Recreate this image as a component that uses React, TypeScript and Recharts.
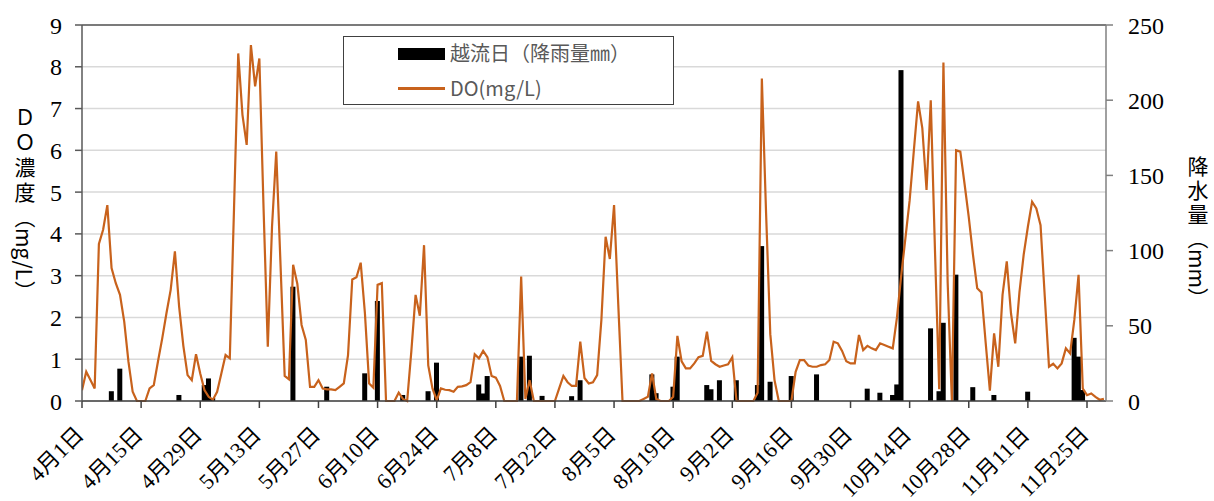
import React from 'react';
import { ComposedChart, Line, Bar, XAxis, YAxis, CartesianGrid, ReferenceLine, Legend } from 'recharts';

// x tick positions (days after 4/1) and their labels
const xTickDays = [0, 14, 28, 42, 56, 70, 84, 98, 112, 126, 140, 154, 168, 182, 196, 210, 224, 238];
const xTickLabels = [
  '4月1日', '4月15日', '4月29日', '5月13日', '5月27日', '6月10日', '6月24日', '7月8日', '7月22日',
  '8月5日', '8月19日', '9月2日', '9月16日', '9月30日', '10月14日', '10月28日', '11月11日', '11月25日',
];

const leftTicks = [0, 1, 2, 3, 4, 5, 6, 7, 8, 9];
const rightTicks = [0, 50, 100, 150, 200, 250];

// daily DO (mg/L) from 4/1 (day 0)
const doValues = [
  0.26, 0.7, 0.5, 0.3, 3.76, 4.1, 4.69, 3.18, 2.82, 2.54,
  1.9, 0.94, 0.22, 0, 0, 0, 0.3, 0.38, 0.95, 1.5,
  2.1, 2.66, 3.58, 2.26, 1.32, 0.62, 0.5, 1.12, 0.66, 0.26,
  0.1, 0.03, 0.22, 0.66, 1.1, 1.02, 4.6, 8.32, 6.85, 6.13,
  8.52, 7.53, 8.2, 4.6, 1.3, 4.17, 5.97, 3.3, 0.6, 0.52,
  3.26, 2.8, 1.82, 1.46, 0.34, 0.34, 0.5, 0.3, 0.28, 0.28,
  0.26, 0.34, 0.42, 1.1, 2.91, 2.96, 3.31, 2.1, 0.42, 0.32,
  2.78, 2.82, 0, 0, 0, 0.2, 0.05, 0, 1.2, 2.54,
  2.04, 3.73, 0.85, 0.3, 0.02, 0.3, 0.27, 0.26, 0.22, 0.34,
  0.35, 0.38, 0.45, 1.12, 1.02, 1.2, 1.05, 0.6, 0.56, 0.36,
  0, 0, 0, 0, 2.98, 0.05, 0.5, 0, 0, 0,
  0, 0, 0, 0.3, 0.6, 0.45, 0.36, 0.36, 1.42, 0.55,
  0.42, 0.45, 0.62, 1.94, 3.93, 3.4, 4.69, 2.3, 0, 0,
  0, 0, 0, 0.05, 0.1, 0.66, 0.05, 0, 0, 0,
  0.1, 1.56, 0.95, 0.78, 0.78, 0.9, 1.05, 1.08, 1.66, 0.96,
  0.88, 0.82, 0.85, 0.88, 1.05, 0, 0, 0, 0, 0,
  0.2, 7.72, 4.5, 1.6, 0.5, 0, 0, 0, 0, 0.7,
  0.98, 0.98, 0.85, 0.82, 0.82, 0.86, 0.88, 0.98, 1.42, 1.38,
  1.2, 0.95, 0.9, 0.9, 1.58, 1.22, 1.32, 1.26, 1.22, 1.38,
  1.34, 1.3, 1.26, 2.0, 3.0, 3.9, 4.8, 6.0, 7.17, 6.53,
  5.05, 7.2, 3.6, 0.28, 8.1, 2.85, 0, 6.0, 5.97, 5.2,
  4.4, 3.5, 2.7, 2.6, 1.4, 0.25, 1.62, 0.82, 2.54, 3.34,
  2.1, 1.38, 2.6, 3.5, 4.17, 4.77, 4.61, 4.21, 2.5, 0.82,
  0.89, 0.78, 0.9, 1.26, 1.14, 1.94, 3.02, 0.3, 0.14, 0.18,
  0.1, 0.03, 0.05,
];

// overflow days (days after 4/1) and rainfall (mm)
const rainDays = [
  7, 9, 23, 29, 30, 31, 50, 58, 67, 70, 76, 82, 84, 94, 95, 96, 104, 106, 109, 116, 118,
  135, 136, 140, 141, 148, 149, 151, 155, 160, 161, 163, 168, 174, 186, 189, 192, 193, 194,
  201, 203, 204, 207, 211, 216, 224, 235, 236, 237,
];
const rainValues = [
  6.5, 21.5, 4, 10.6, 15, 2, 76, 9.5, 18.4, 66.5, 4, 6.5, 25.5, 11, 5, 16.6, 29.5, 30.1, 3.4, 3.2, 13.8,
  17.7, 5.2, 9.5, 29.5, 10.6, 7.8, 13.8, 13.8, 10.6, 103, 12.8, 16.6, 17.7, 8.2, 5.5, 4, 11, 220,
  48.3, 6.5, 52, 84, 9.2, 4, 6.2, 42, 29.5, 7.3,
];

const rainLabel = '越流日（降雨量㎜）';
const doLabel = 'DO(mg/L)';
const leftTitleMain = 'ＤＯ濃度';
const leftTitleUnit = '（mg/L）';
const rightTitleMain = '降水量';
const rightTitleUnit = '（mm）';

const data = doValues.map((v, i) => {
  const k = rainDays.indexOf(i);
  return { day: i, do: v, rain: k >= 0 ? rainValues[k] : undefined };
});

const ORANGE = '#C8621C';
const NUM_FONT = "'Liberation Serif', 'DejaVu Serif', serif";
const CJK_FONT = "'Noto Sans CJK JP', sans-serif";
const BAR_W = 5;

const XTick = (props: any) => {
  const { x, y, payload } = props;
  const idx = xTickDays.indexOf(payload.value);
  const label = idx >= 0 ? xTickLabels[idx] : '';
  const ax = x + 3;
  const ay = y + 26;
  return (
    <text
      x={ax}
      y={ay}
      textAnchor="end"
      transform={`rotate(-45 ${ax} ${ay})`}
      fontSize={22}
      fontFamily={`'Liberation Serif', ${CJK_FONT}`}
      fill="#000"
    >
      {label}
    </text>
  );
};

const BarShape = (p: any) => {
  const { x, y, width, height } = p;
  if (!height || height <= 0) return null;
  const cx = x + width / 2;
  return <rect x={cx - BAR_W / 2} y={y} width={BAR_W} height={height} fill="#000" />;
};

const renderLegend = () => (
  <div
    style={{
      position: 'relative',
      width: 331,
      height: 69,
      boxSizing: 'border-box',
      border: '1.5px solid #404040',
      background: '#fff',
      fontFamily: CJK_FONT,
      color: '#595959',
    }}
  >
    <div style={{ position: 'absolute', left: 54, top: 11, width: 47, height: 12, background: '#000' }} />
    <div style={{ position: 'absolute', left: 106, top: 2, fontSize: 20, lineHeight: '28px', whiteSpace: 'nowrap' }}>
      {rainLabel}
    </div>
    <div style={{ position: 'absolute', left: 54, top: 50, width: 47, height: 2.5, background: ORANGE }} />
    <div style={{ position: 'absolute', left: 106, top: 37, fontSize: 20, lineHeight: '28px', whiteSpace: 'nowrap' }}>
      {doLabel}
    </div>
  </div>
);

const vTitle: React.CSSProperties = {
  position: 'absolute',
  writingMode: 'vertical-rl',
  fontFamily: CJK_FONT,
  fontSize: 21,
  lineHeight: '24px',
  width: 24,
  color: '#000',
  whiteSpace: 'nowrap',
};

export default function App() {
  return (
    <div style={{ position: 'absolute', left: 0, top: 0, width: 1214, height: 501, background: '#fff' }}>
      <ComposedChart
        width={1214}
        height={501}
        data={data}
        margin={{ top: 25, right: 0, bottom: 0, left: 0 }}
      >
        <CartesianGrid yAxisId="left" vertical={false} stroke="#d9d9d9" strokeWidth={1.5} />
        <XAxis
          dataKey="day"
          type="number"
          domain={[0, 242.5]}
          ticks={xTickDays}
          interval={0}
          height={100}
          tickSize={7}
          tick={<XTick />}
          axisLine={{ stroke: '#404040', strokeWidth: 1.5 }}
          tickLine={{ stroke: '#404040', strokeWidth: 1.5 }}
          allowDataOverflow
        />
        <YAxis
          yAxisId="left"
          domain={[0, 9]}
          ticks={leftTicks}
          interval={0}
          width={82}
          tickSize={7}
          tickMargin={13}
          axisLine={{ stroke: '#595959', strokeWidth: 1.5 }}
          tickLine={{ stroke: '#595959', strokeWidth: 1.5 }}
          tick={{ fontSize: 24, fontFamily: NUM_FONT, fill: '#000' }}
        />
        <YAxis
          yAxisId="right"
          orientation="right"
          domain={[0, 250]}
          ticks={rightTicks}
          interval={0}
          width={108}
          tickSize={7}
          tickMargin={15}
          axisLine={{ stroke: '#808080', strokeWidth: 1.5 }}
          tickLine={{ stroke: '#808080', strokeWidth: 1.5 }}
          tick={{ fontSize: 24, fontFamily: NUM_FONT, fill: '#000', textAnchor: 'start' }}
        />
        <ReferenceLine yAxisId="left" y={9} stroke="#595959" strokeWidth={1.5} />
        <Bar
          yAxisId="right"
          dataKey="rain"
          fill="#000"
          barSize={BAR_W}
          shape={<BarShape />}
          isAnimationActive={false}
        />
        <Line
          yAxisId="left"
          dataKey="do"
          type="linear"
          stroke={ORANGE}
          strokeWidth={2.2}
          dot={false}
          activeDot={false}
          isAnimationActive={false}
        />
        <Legend
          layout="vertical"
          align="center"
          verticalAlign="middle"
          content={renderLegend}
          wrapperStyle={{ position: 'absolute', left: 343, top: 36, width: 331, height: 69 }}
        />
      </ComposedChart>
      <div style={{ ...vTitle, left: 13, top: 107 }}>
        <span style={{ letterSpacing: 4 }}>{leftTitleMain}</span>
        <span>{leftTitleUnit}</span>
      </div>
      <div style={{ ...vTitle, left: 1186, top: 156 }}>
        <span style={{ letterSpacing: 3 }}>{rightTitleMain}</span>
        <span>{rightTitleUnit}</span>
      </div>
    </div>
  );
}
